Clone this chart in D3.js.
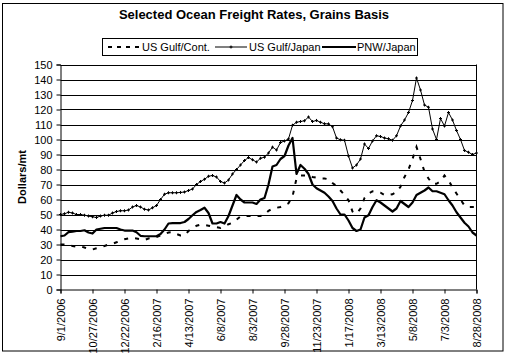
<!DOCTYPE html>
<html><head><meta charset="utf-8">
<script src="https://cdn.jsdelivr.net/npm/d3@7"></script>
<style>body{margin:0;background:#fff}svg{display:block;font-family:"Liberation Sans",Arial,sans-serif}</style>
</head><body>
<script>
const tickLabels = ["9/1/2006","10/27/2006","12/22/2006","2/16/2007","4/13/2007","6/8/2007","8/3/2007","9/28/2007","11/23/2007","1/17/2008","3/13/2008","5/8/2008","7/3/2008","8/28/2008"];
const weeksPerTick = 8;
const gulfCont = [30,30,29.5,29,28.5,28.7,28,27,26.7,27.5,28.2,29,30,30.5,31.5,32.5,33.5,34,34.4,34,33.5,33,34,34.4,35,36,37,38,38.2,37,36,36,39,41,42.5,43.3,43,42.5,42,41.5,41,42,43.5,44.5,46.5,48.7,49,49,49,49,49,50,52.5,53.8,54.5,55,56,57.5,62,74,76,76,76,75,74.5,74,74,73.5,71,69,66,63,59.5,52,50.5,54,61,64,65.5,65,64.5,63,63,63.5,65,68.5,75,80,87,95,87,78.5,74,70.5,70.5,72,76,73,68,64,60,56,55,55,55];
const gulfJapan = [50,50.5,51.5,51,50,50,49.5,49,48.5,48,49,49.5,49.5,51,52,52.5,52.5,53,55,56,55,53.5,53,54.5,56,60,63.5,64.5,64.5,64.5,64.7,65,66,67,70,72,73.5,75.5,76,75,72,71,73,77,80,83,86,88,86.5,85,87.5,88.2,91,94.9,93,98,99,100.4,109.5,111.5,112,112.5,115,112,112.7,111.5,110.5,110.4,108.5,101,99.8,99.5,89,81,83,87,97,94,99,102.5,102,101,100.5,99.5,102.5,109,113,118,126,141,133,123,121.5,107,100,114,109,118,113,106,100,92.7,91.5,90,91];
const pnwJapan = [35.5,36,38.2,38.5,39,39,39.5,38,37.3,40,40.5,41,41,41,41,40,39.3,39.3,39.3,38.2,35.8,35.5,35.5,35.5,35.5,37,40,44,44.2,44.2,44.3,45,47,49.5,51.7,53,54.5,51,44,44,45,44,49,56,63,60,58,58,58,57,60,61,70,82,83,87,89,96,101,77,83,80.5,77,70,67.5,66,64.5,62,59,54,50,50,46,41,39,40,48,49.5,55,59.5,58,56,54,52,54,59,57,55,58,63,64.5,66,68,65.5,65.5,64.5,63.5,59.5,56,51.5,48,44.5,42,38,36];
const yTicks = [0,10,20,30,40,50,60,70,80,90,100,110,120,130,140,150];
const seriesNames = ["US Gulf/Cont.","US Gulf/Japan","PNW/Japan"];

const W = 507, H = 355;
const svg = d3.select("body").append("svg").attr("width", W).attr("height", H);
svg.append("rect").attr("x",2.5).attr("y",3.5).attr("width",500.5).attr("height",347.5).attr("fill","#fff").attr("stroke","#000");

const x = d3.scaleLinear().domain([0, gulfJapan.length-1]).range([60.5, 476.5]);
const y = d3.scaleLinear().domain([0,150]).range([289.5, 64.5]);

// gridlines
svg.append("g").selectAll("line").data(yTicks.filter(d=>d>0)).join("line")
  .attr("x1",x(0)).attr("x2",x(104)).attr("y1",d=>Math.round(y(d))+0.5).attr("y2",d=>Math.round(y(d))+0.5)
  .attr("stroke","#000").attr("stroke-width",1);
// right border of plot
svg.append("line").attr("x1",x(104)).attr("x2",x(104)).attr("y1",y(150)).attr("y2",y(0)).attr("stroke","#000");

// y axis
const yAxis = d3.axisLeft(y).tickValues(yTicks).tickSize(4).tickPadding(4);
const gy = svg.append("g").attr("transform",`translate(${x(0)},0)`).call(yAxis);
gy.selectAll("text").attr("font-size",11).attr("font-family","Liberation Sans, Arial, sans-serif").attr("fill","#000");
gy.selectAll("line,path").attr("stroke","#000");

// x axis
const tickIdx = tickLabels.map((_,i)=>i*weeksPerTick);
const xAxis = d3.axisBottom(x).tickValues(tickIdx).tickSize(4).tickPadding(6).tickFormat((d,i)=>tickLabels[i]);
const gx = svg.append("g").attr("transform",`translate(0,${y(0)})`).call(xAxis);
gx.select(".domain").attr("stroke","#000");
gx.selectAll("line").attr("stroke","#000");
gx.selectAll("text").attr("font-size",11).attr("font-family","Liberation Sans, Arial, sans-serif").attr("fill","#000")
  .attr("transform","rotate(-90)").attr("text-anchor","end").attr("dy","0.35em").attr("x",-9).attr("y",0);

const line = d3.line().x((d,i)=>x(i)).y(d=>y(d));
// US Gulf/Cont dashed
svg.append("path").datum(gulfCont).attr("d",line).attr("fill","none").attr("stroke","#000").attr("stroke-width",2).attr("stroke-dasharray","4,7");
// US Gulf/Japan thin with markers
svg.append("path").datum(gulfJapan).attr("d",line).attr("fill","none").attr("stroke","#000").attr("stroke-width",1);
svg.append("g").selectAll("path").data(gulfJapan).join("path")
  .attr("transform",(d,i)=>`translate(${x(i)},${y(d)})`).attr("d","M-1.5,0H1.5M0,-1.5V1.5").attr("stroke","#000").attr("stroke-width",1);
// PNW/Japan solid
svg.append("path").datum(pnwJapan).attr("d",line).attr("fill","none").attr("stroke","#000").attr("stroke-width",2.2).attr("stroke-linejoin","round");

// title
svg.append("text").attr("x",254).attr("y",19).attr("text-anchor","middle").attr("font-size",13).attr("font-weight","bold").text("Selected Ocean Freight Rates, Grains Basis");
// y label
svg.append("text").attr("transform",`translate(26,${(y(0)+y(150))/2}) rotate(-90)`).attr("text-anchor","middle").attr("font-size",11).attr("font-weight","bold").text("Dollars/mt");

// legend
const lg = svg.append("g");
lg.append("rect").attr("x",102.5).attr("y",38.5).attr("width",315).attr("height",17).attr("fill","#fff").attr("stroke","#000");
const items = [{x1:108,x2:141,tx:142},{x1:215,x2:247,tx:249},{x1:322,x2:356,tx:357}];
lg.append("line").attr("x1",items[0].x1).attr("x2",items[0].x2).attr("y1",47).attr("y2",47).attr("stroke","#000").attr("stroke-width",2).attr("stroke-dasharray","4,5");
lg.append("line").attr("x1",items[1].x1).attr("x2",items[1].x2).attr("y1",47).attr("y2",47).attr("stroke","#000").attr("stroke-width",1);
lg.append("path").attr("transform",`translate(${(items[1].x1+items[1].x2)/2},47)`).attr("d","M-1.5,0H1.5M0,-1.5V1.5").attr("stroke","#000");
lg.append("line").attr("x1",items[2].x1).attr("x2",items[2].x2).attr("y1",47).attr("y2",47).attr("stroke","#000").attr("stroke-width",2);
lg.selectAll("text.l").data(seriesNames).join("text").attr("class","l").attr("x",(d,i)=>items[i].tx).attr("y",51).attr("font-size",11).text(d=>d);
</script>
</body></html>
